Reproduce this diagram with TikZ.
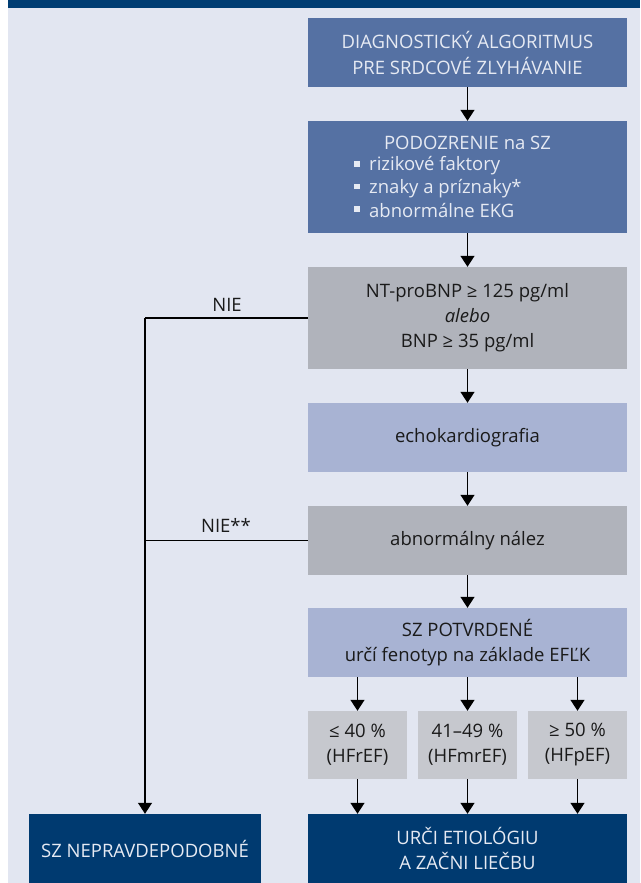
\documentclass[tikz,border=0pt]{standalone}
\usepackage{fontspec}
\setmainfont{Open Sans}
\usetikzlibrary{arrows.meta}
\definecolor{bgc}{HTML}{E2E6F1}
\definecolor{topbar}{HTML}{003D73}
\definecolor{midblue}{HTML}{5571A3}
\definecolor{darkblue}{HTML}{003A70}
\definecolor{greyc}{HTML}{B0B3BB}
\definecolor{lightblue}{HTML}{A8B3D3}
\definecolor{lightgrey}{HTML}{C6C8CE}
\definecolor{txtlight}{HTML}{E6EAF3}
\definecolor{txtdark}{HTML}{1A1A1A}
\begin{document}
\begin{tikzpicture}[x=1pt,y=-1pt,
  box/.style={rectangle,inner sep=0pt,align=center,font=\fontsize{18.5}{25}\selectfont},
  mainbox/.style={box,minimum width=319pt},
  darkbox/.style={fill=darkblue,text=txtlight},
  medbox/.style={fill=midblue,text=txtlight},
  greybox/.style={fill=greyc,text=txtdark},
  lbbox/.style={fill=lightblue,text=txtdark},
  lgbox/.style={fill=lightgrey,text=txtdark},
  arr/.style={line width=1.3pt,-{Triangle[width=14pt,length=11pt]}},
  ln/.style={line width=1.1pt},
  lbl/.style={inner sep=0pt,font=\fontsize{18.5}{20}\selectfont,text=txtdark}]
\useasboundingbox (0,0) rectangle (640,883);
\fill[bgc] (8,8) rectangle (640,883);
\fill[topbar] (8,0) rectangle (640,8);

\node[mainbox,medbox,minimum height=69pt,font=\fontsize{18.5}{26}\selectfont] (b1) at (467.5,52.5) {DIAGNOSTICKÝ ALGORITMUS\\PRE SRDCOVÉ ZLYHÁVANIE};
\node[mainbox,medbox,minimum height=112pt] (b2) at (467.5,177) {};
\node[box,text=txtlight] (b2t) at (467.5,143) {PODOZRENIE na SZ};
\node[box,text=txtlight,anchor=west] (b2a) at (369,166) {rizikové faktory};
\node[box,text=txtlight,anchor=west] (b2b) at (369,188.5) {znaky a príznaky*};
\node[box,text=txtlight,anchor=west] (b2c) at (369,211) {abnormálne EKG};
\foreach \n in {b2a,b2b,b2c}
  \fill[txtlight] ([xshift=-15pt,yshift=-0.5pt]\n.west) rectangle ++(5.5,-5.5);

\node[mainbox,greybox,minimum height=102pt] (b3) at (467.5,318) {NT-proBNP ≥ 125 pg/ml\\\textit{alebo}\\BNP ≥ 35 pg/ml};
\node[mainbox,lbbox,minimum height=69pt] (b4) at (467.5,437.5) {echokardiografia};
\node[mainbox,greybox,minimum height=69pt] (b5) at (467.5,540.5) {abnormálny nález};
\node[mainbox,lbbox,minimum height=69pt] (b6) at (467.5,642.5) {SZ POTVRDENÉ\\určí fenotyp na základe EFĽK};
\node[box,lgbox,minimum width=99pt,minimum height=68pt] (s1) at (357.5,745) {≤ 40 \%\\(HFrEF)};
\node[box,lgbox,minimum width=99pt,minimum height=68pt] (s2) at (467.5,745) {41–49 \%\\(HFmrEF)};
\node[box,lgbox,minimum width=99pt,minimum height=68pt] (s3) at (577.5,745) {≥ 50 \%\\(HFpEF)};
\node[mainbox,darkbox,minimum height=69pt] (b7) at (467.5,848.5) {URČI ETIOLÓGIU\\A ZAČNI LIEČBU};
\node[box,darkbox,minimum width=232pt,minimum height=69pt] (nz) at (145,848.5) {SZ NEPRAVDEPODOBNÉ};

\draw[arr] (b1) -- (b2);
\draw[arr] (b2) -- (b3);
\draw[arr] (b3) -- (b4);
\draw[arr] (b4) -- (b5);
\draw[arr] (b5) -- (b6);
\draw[arr] (b6.south -| s1) -- (s1);
\draw[arr] (b6.south -| s2) -- (s2);
\draw[arr] (b6.south -| s3) -- (s3);
\draw[arr] (s1) -- (b7.north -| s1);
\draw[arr] (s2) -- (b7.north -| s2);
\draw[arr] (s3) -- (b7.north -| s3);

\coordinate (c1) at (145,318);
\coordinate (c2) at (145,540.5);
\draw[ln] (b3.west) -- (c1);
\draw[ln] (b5.west) -- (c2);
\draw[arr,line width=1.1pt] (c1) -- (nz);
\node[lbl] (l1) at (227,305) {NIE};
\node[lbl] (l2) at (226,525) {NIE**};
\end{tikzpicture}
\end{document}
